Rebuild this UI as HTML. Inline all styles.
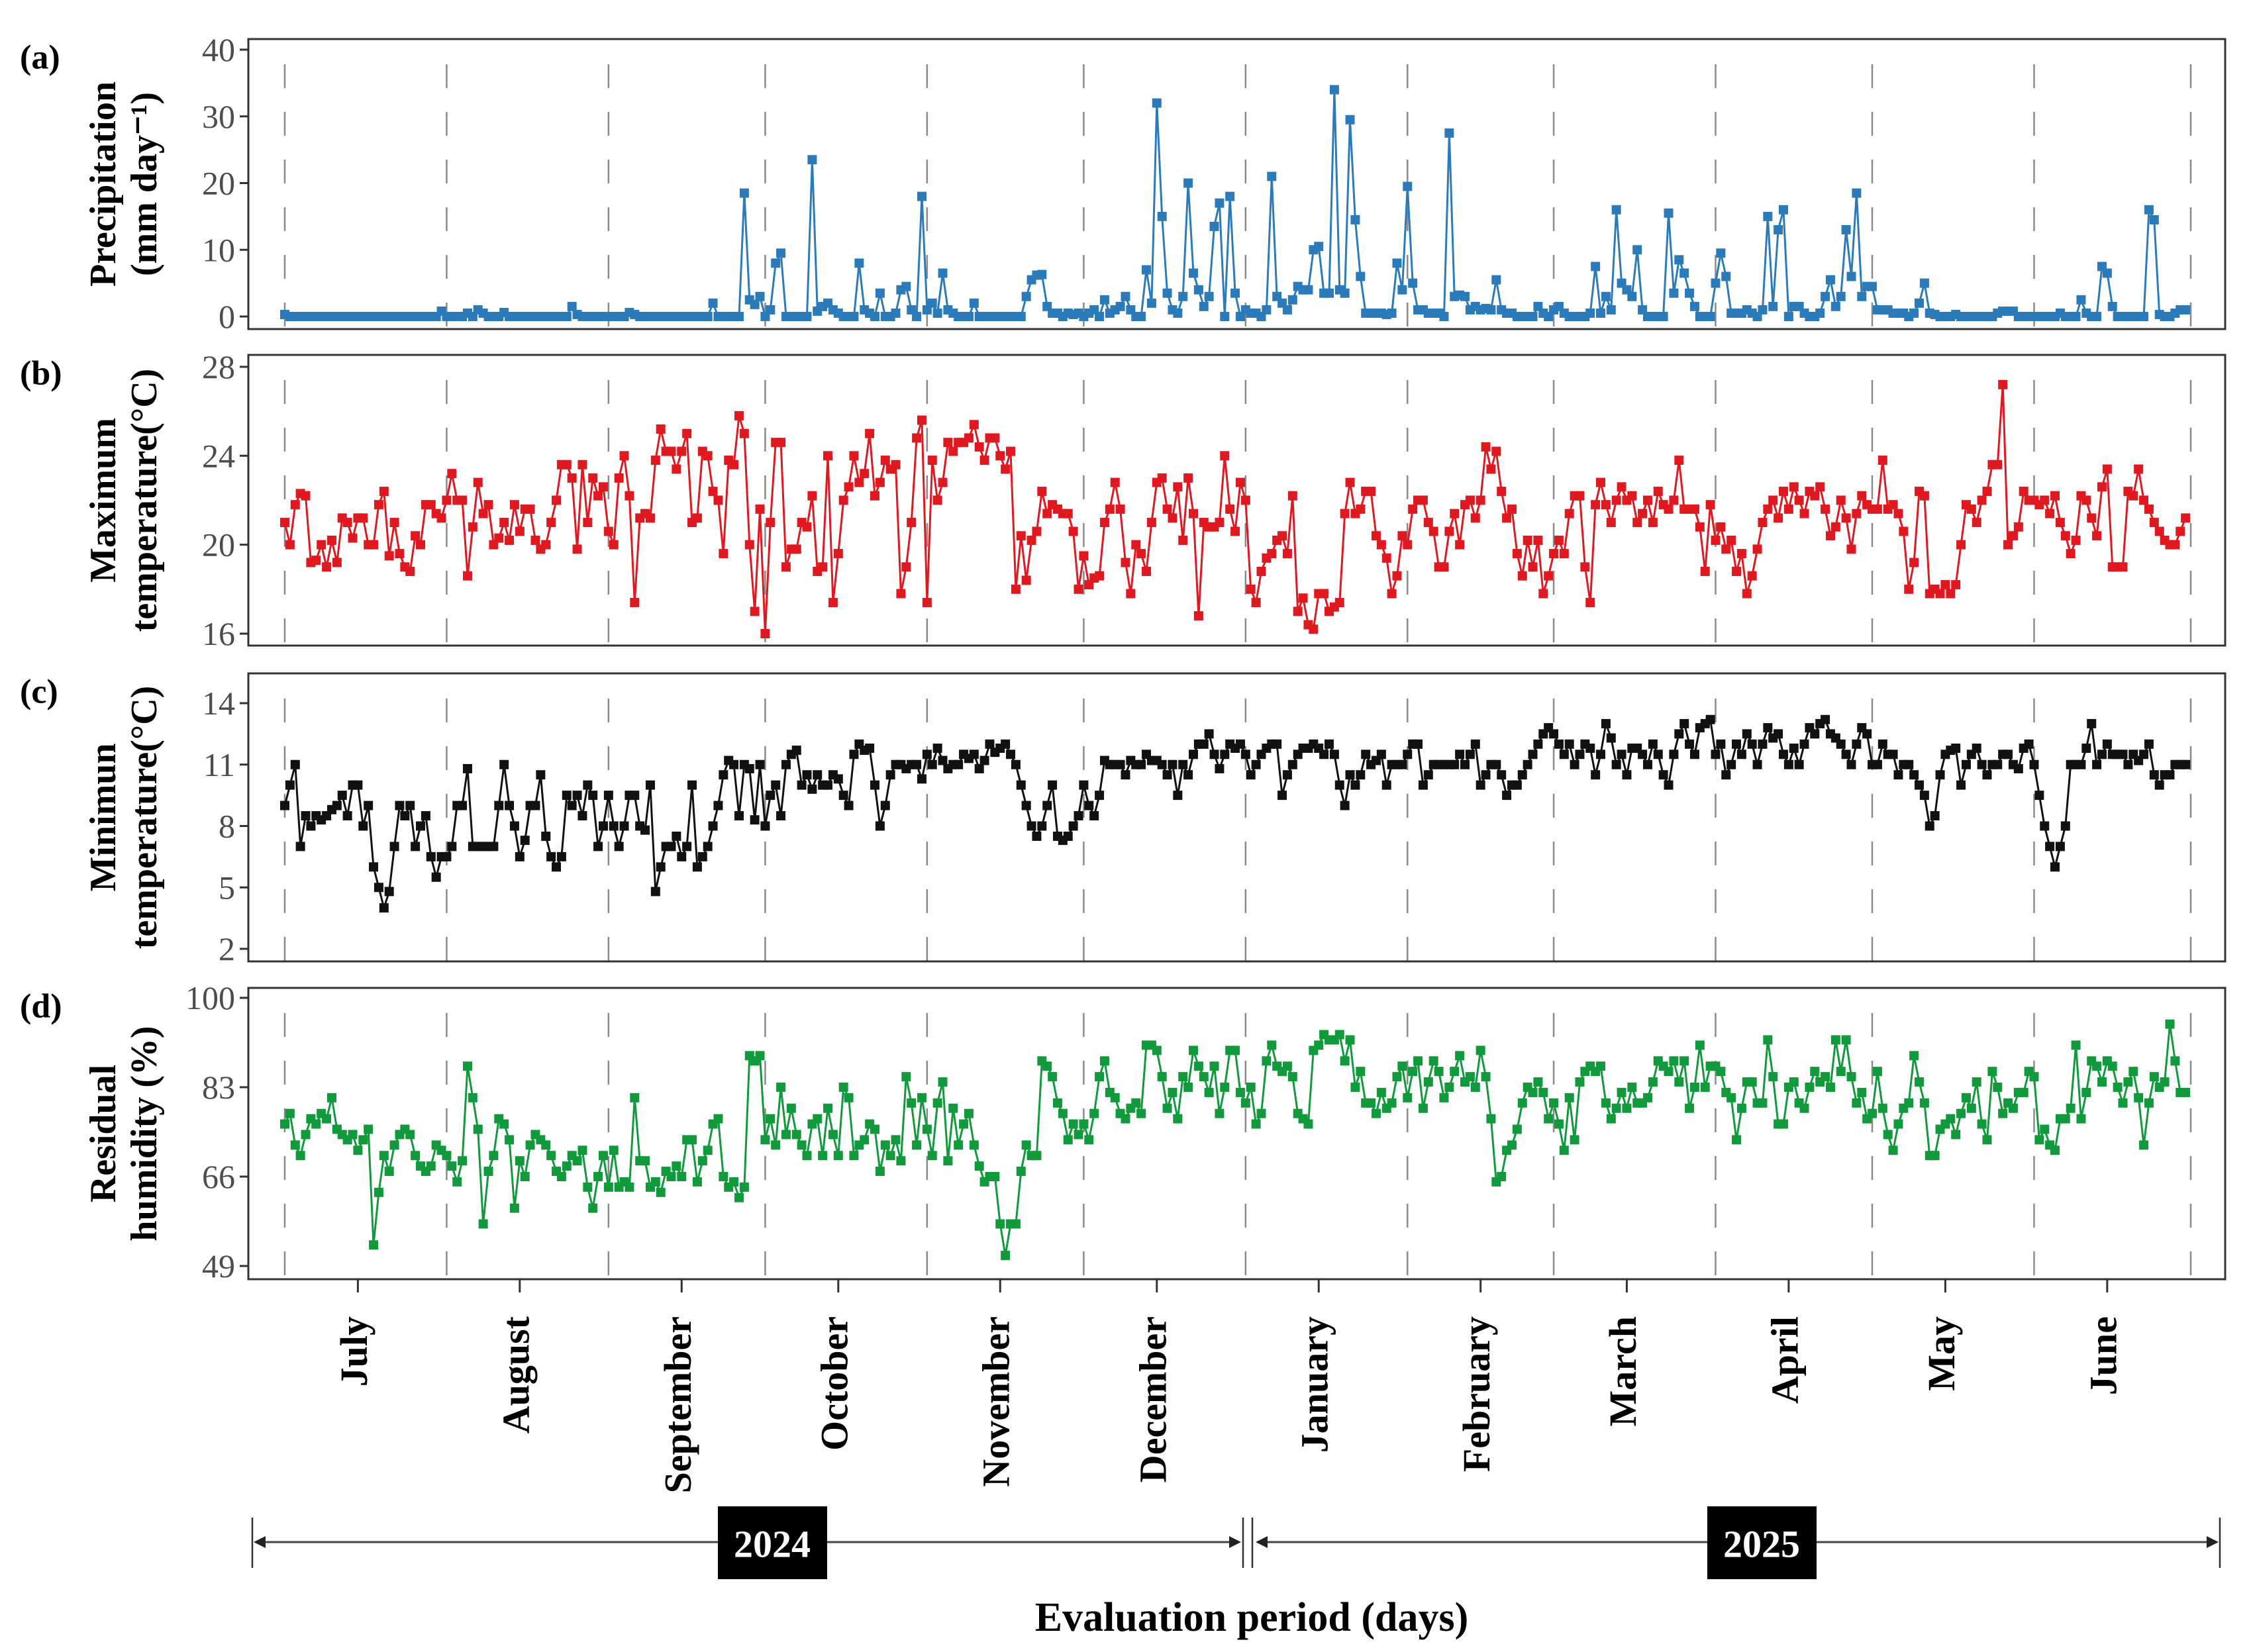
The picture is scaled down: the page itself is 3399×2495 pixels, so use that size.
<!DOCTYPE html>
<html><head><meta charset="utf-8"><style>
html,body{margin:0;padding:0;background:#fff;}
svg{display:block;font-family:"Liberation Serif",serif;}
</style></head><body>
<svg id="chart" width="3399" height="2495" viewBox="0 0 3399 2495" xmlns="http://www.w3.org/2000/svg"></svg>
<script>
const monthNames=["July","August","September","October","November","December","January","February","March","April","May","June"];
const monthStartDays=[0,31,62,92,123,153,184,215,243,274,304,335,365];
const monthMidDays=[14,45,76,106,137,167,198,229,257,288,318,349];
const precipTicks=[0,10,20,30,40];
const tmaxTicks=[16,20,24,28];
const tminTicks=[2,5,8,11,14];
const humTicks=[49,66,83,100];
const precip=[0.3,0,0,0,0,0,0,0,0,0,0,0,0,0,0,0,0,0,0,0,0,0,0,0,0,0,0,0,0,0,
0.8,0,0,0,0,0.5,0,1,0.5,0,0,0,0.6,0,0,0,0,0,0,0,0,0,0,0,0,1.5,0.3,0,0,0,
0,0,0,0,0,0,0.6,0.3,0,0,0,0,0,0,0,0,0,0,0,0,0,0,2,0,0,0,0,0,18.5,2.5,
1.8,3,0,1,8,9.5,0,0,0,0,0,23.5,0.8,1.5,2,1,0.5,0,0,0,8,1,0.5,0,3.5,0,0,0.5,4,4.5,
1,0,18,1,2,0.5,6.5,1,0.5,0,0,0,2,0,0,0,0,0,0,0,0,0,3,5.5,6.2,6.3,1.5,0.5,0.5,0,
0.5,0.3,0.5,0,0.5,1,0,2.5,0.5,1,1.5,3,1,0,0,7,2,32,15,3.5,1,0.5,3,20,6.5,4,1.5,3,13.5,17,
0,18,3.5,0,1,0.5,0.5,0,1,21,3,2,1,2.5,4.5,4,4,10,10.5,3.5,3.5,34,4,3.5,29.5,14.5,6,0.5,0.5,0.5,
0.5,0.3,0.5,8,4,19.5,5,1,1,0.5,0.5,0.5,0,27.5,3,3.2,3,1,1.5,1,1.2,1,5.5,1,0.5,0.5,0,0,0,0,
1.5,0.5,0,1,1.5,0.5,0,0,0,0,0.5,7.5,0.5,3,1,16,5,4,3,10,1,0,0,0,0,15.5,3.5,8.5,6.5,3.5,
1.5,0,0,0,5,9.5,6,0.5,0.5,0.5,1,0.5,0,1,15,1.5,13,16,0,1.5,1.5,0.5,0,0,0.5,3,5.5,1.5,3,13,
6,18.5,3,4.5,4.5,1,1,1,0.5,0.5,0.5,0,0.5,2,5,0.5,0.3,0,0,0,0.3,0,0,0,0,0,0,0,0.5,0.8,
0.8,0.8,0,0,0,0,0,0,0,0,0.5,0,0,0,2.5,0.5,0,0,7.5,6.5,1.5,0,0,0,0,0,0,16,14.5,0.3,
0,0,0.5,1,1];
const tmax=[21,20,21.8,22.3,22.2,19.2,19.3,20,19,20.2,19.2,21.2,21,20.3,21.2,21.2,20,20,21.8,22.4,19.5,21,19.6,19,18.8,20.4,20,21.8,21.8,21.4,21.2,
22,23.2,22,22,18.6,20.8,22.8,21.4,21.8,20,20.3,21,20.2,21.8,20.6,21.6,21.6,20.2,19.8,20,21,22,23.6,23.6,23,19.8,23.6,21,23,22.2,22.6,
20.6,20,23,24,22.2,17.4,21.2,21.4,21.2,23.8,25.2,24.2,24.2,23.4,24.2,25,21,21.2,24.2,24,22.4,22,19.6,23.8,23.6,25.8,25,20,17,21.6,
16,21,24.6,24.6,19,19.8,19.8,21,20.8,22.2,18.8,19,24,17.4,19.6,22,22.6,24,22.8,23.2,25,22.2,22.8,23.8,23.4,23.6,17.8,19,21,24.8,25.6,
17.4,23.8,22,22.8,24.6,24.2,24.6,24.6,24.8,25.4,24.4,23.8,24.8,24.8,24,23.4,24.2,18,20.4,18.4,20.2,20.6,22.4,21.4,21.8,21.6,21.4,21.4,20.6,18,
19.5,18.2,18.5,18.6,21,21.6,22.8,21.6,19.2,17.8,20,19.6,18.8,21,22.8,23,21.6,21.2,22.6,20.2,23,21.4,16.8,21,20.8,20.8,21,24,21.6,20.6,22.8,
22,18,17.4,18.8,19.4,19.6,20.2,20.4,19.6,22.2,17,17.6,16.4,16.2,17.8,17.8,17,17.2,17.4,21.4,22.8,21.4,21.6,22.4,22.4,20.4,20,19.4,17.8,18.6,20.4,
20,21.6,22,22,21,20.6,19,19,20.6,21.4,20,21.8,22,21.2,22,24.4,23.4,24.2,22.4,21.2,21.6,19.6,18.6,20.2,19,20.2,17.8,18.6,
19.6,20.2,19.6,21.4,22.2,22.2,19,17.4,21.8,22.8,21.8,21,22,22.6,22,22.2,21,21.4,22,21,22.4,21.8,21.6,22,23.8,21.6,21.6,21.6,20.8,18.8,21.8,
20.2,20.8,19.8,20.2,18.8,19.6,17.8,18.6,19.8,21,21.6,22,21.2,22.4,21.6,22.6,22,21.4,22.4,22.2,22.6,21.6,20.4,20.8,22,21.2,19.8,21.4,22.2,21.8,
21.6,21.6,23.8,21.6,21.8,21.4,20.6,18,19.2,22.4,22.2,17.8,18,17.8,18.2,17.8,18.2,20,21.8,21.6,21,22,22.4,23.6,23.6,27.2,20,20.4,20.8,22.4,22,
22,21.8,22,21.4,22.2,21,20.4,19.6,20.2,22.2,22,21.2,20.4,22.6,23.4,19,19,19,22.4,22.2,23.4,22,21.6,21,20.6,20.2,20,20,20.6,21.2];
const tmin=[9,10,11,7,8.5,8,8.5,8.3,8.5,8.8,9,9.5,8.5,10,10,8,9,6,5,4,4.8,7,9,8.5,9,7,8,8.5,6.5,5.5,6.5,
6.5,7,9,9,10.8,7,7,7,7,7,9,11,9,8,6.5,7.3,9,9,10.5,7.5,6.5,6,6.5,9.5,9,9.5,8.5,10,9.5,7,8,
9.5,8,7,8,9.5,9.5,8,7.8,10,4.8,6,7,7,7.5,6.5,7,10,6,6.5,7,8,9,10.5,11.2,11,8.5,11,10.8,8.3,11,
8,9.5,10,8.5,11,11.5,11.7,10,10.5,9.8,10.5,10,10,10.5,10.3,9.5,9,11.5,12,11.7,11.8,10,8,9,10.5,11,11,10.8,11,11,10.3,
11.5,11,11.8,11.2,10.8,11,11,11.5,11.3,11.5,10.8,11.2,12,11.6,11.8,12,11.5,11,10,9,8,7.5,8,9,10,7.5,7.3,7.5,8,8.5,
10,9,8.5,9.5,11.2,11,11,11,10.5,11.2,11,11,11.5,11.2,11.2,11,10.5,11,9.5,11,10.5,11.5,12,12,12.5,11.5,10.8,11.5,12,11.8,12,
11.5,10.5,11,11.5,11.8,12,12,9.5,10.5,11,11.5,11.8,11.8,12,11.8,11.5,12,11.5,10,9,10.5,10,10.5,11.5,11,11.2,11.5,10,11,11,11,
11.5,12,12,10,10.5,11,11,11,11,11,11.5,11,11.5,12,10,10.5,11,11,10.5,9.5,10,10,10.5,11,11.5,12,12.5,12.8,
12.5,12,11.5,12,11,11.5,12,11.8,10.5,11.5,13,12.3,11,11.5,10.5,11.8,11.8,11.5,11,12,11.5,10.5,10,11.5,12.5,13,12,11.5,12.8,13,13.2,
11.5,12,10.5,11,12,11.5,12.5,12,11,12,12.8,12.3,12.5,11.5,11,11.8,11,12,12.8,12.5,13,13.2,12.5,12.3,12,11.5,11,12,12.8,12.5,
11,11,12,11.5,11.5,10.5,11,11,10.5,10,9.5,8,8.5,10.5,11.5,11.7,11.8,10,11,11.5,11.8,11,10.5,11,11,11.5,11.5,11,10.8,11.8,12,
11,9.5,8,7,6,7,8,11,11,11,11.8,13,11,11.5,12,11.5,11.5,11.5,11,11.5,11.2,11.5,12,10.5,10,10.5,10.5,11,11,11];
const humidity=[76,78,72,70,74,77,76,78,77,81,75,74,73,74,71,73,75,53,63,70,67,72,74,75,74,70,68,67,68,72,71,
70,68,65,69,87,81,75,57,67,70,77,76,73,60,69,66,72,74,73,72,70,67,66,68,70,69,71,64,60,66,70,
64,71,64,65,64,81,69,69,64,65,63,67,66,68,66,73,73,65,69,71,76,77,66,64,65,62,64,89,88,89,
73,77,72,83,74,79,74,72,70,76,77,70,79,74,70,83,81,70,72,73,76,75,67,72,70,73,69,85,80,72,81,
75,70,80,84,69,79,72,76,78,72,68,65,66,66,57,51,57,57,67,72,70,70,88,87,85,80,78,73,76,74,
76,73,78,85,88,82,81,78,77,79,80,78,91,91,90,85,79,82,77,85,83,90,87,85,82,87,78,83,90,90,82,
80,83,76,78,88,91,87,86,87,85,78,77,76,90,91,93,92,92,93,88,92,83,86,80,80,78,82,79,80,85,87,
81,86,88,79,84,88,86,81,83,86,89,84,85,83,90,85,77,65,66,71,72,75,80,83,82,84,82,77,
80,76,71,81,73,84,86,87,86,87,80,77,79,82,79,83,80,80,81,84,88,87,86,88,84,88,79,83,91,83,87,
87,86,82,81,73,79,84,84,80,80,92,85,76,76,83,84,80,79,83,86,84,85,83,92,86,92,85,80,82,77,
78,86,79,74,71,76,79,80,89,84,80,70,70,75,76,77,74,78,81,79,84,76,73,86,83,78,80,79,82,82,86,
85,73,75,72,71,77,77,79,91,77,82,88,87,84,88,87,83,80,84,86,81,72,80,85,83,84,95,88,82,82];

const NS="http://www.w3.org/2000/svg";
const svg=document.getElementById('chart');
function mk(tag,attrs,parent){const e=document.createElementNS(NS,tag);for(const k in attrs)e.setAttribute(k,attrs[k]);(parent||svg).appendChild(e);return e;}
const X0=430, PXD=7.885, LEFT=375, RIGHT=3360;
function xDay(d){return X0+d*PXD;}
const panels=[
 {key:'a',data:precip,ticks:precipTicks,top:59,bot:497,v0:0,y0:478,v1:40,y1:75,color:'#2b7bba',t1:'Precipitation',t2:'(mm day⁻¹)',name:'precipitation'},
 {key:'b',data:tmax,ticks:tmaxTicks,top:536,bot:975,v0:16,y0:957,v1:28,y1:554,color:'#e0181f',t1:'Maximum',t2:'temperature(°C)',name:'max-temperature'},
 {key:'c',data:tmin,ticks:tminTicks,top:1017,bot:1452,v0:2,y0:1433,v1:14,y1:1062,color:'#111111',t1:'Minimun',t2:'temperature(°C)',name:'min-temperature'},
 {key:'d',data:humidity,ticks:humTicks,top:1492,bot:1932,v0:49,y0:1912,v1:100,y1:1507,color:'#109a3c',t1:'Residual',t2:'humidity (%)',name:'humidity'}
];
panels.forEach(p=>{
 const g=mk('g',{});
 
 
 const yv=v=>p.y0+(v-p.v0)*(p.y1-p.y0)/(p.v1-p.v0);
 monthStartDays.forEach(d=>{
  const l=mk('line',{x1:xDay(d),x2:xDay(d),y1:p.top+38,y2:p.bot,stroke:'#8a8a8a','stroke-width':2.5,'stroke-dasharray':'36 36'},g);
  
  
 });
 p.ticks.forEach(t=>{
  const y=yv(t);
  const tl=mk('line',{x1:LEFT-13,x2:LEFT,y1:y,y2:y,stroke:'#333','stroke-width':3},g);
  
  
  const tx=mk('text',{x:LEFT-20,y:y,'text-anchor':'end','dominant-baseline':'central','font-size':50,fill:'#4d4d4d'},g);
  tx.textContent=t;
  
  
 });
 const pts=p.data.map((v,i)=>[xDay(i),yv(v)]);
 const path=mk('polyline',{points:pts.map(q=>q[0].toFixed(1)+','+q[1].toFixed(1)).join(' '),fill:'none',stroke:p.color,'stroke-width':3,'stroke-linejoin':'round'},g);
 
 
 pts.forEach(q=>{
  const r=mk('rect',{x:q[0]-7,y:q[1]-7,width:14,height:14,fill:p.color},g);
  
  
 });
 const fr=mk('rect',{x:LEFT,y:p.top,width:RIGHT-LEFT,height:p.bot-p.top,fill:'none',stroke:'#333','stroke-width':3},g);
 
 
 const cy=(p.top+p.bot)/2;
 const a1=mk('text',{x:0,y:0,transform:`translate(156,${cy}) rotate(-90)`,'text-anchor':'middle','dominant-baseline':'central','font-size':56,'font-weight':'bold',fill:'#000'},g);
 a1.textContent=p.t1;
 
 
 const a2=mk('text',{x:0,y:0,transform:`translate(218,${cy}) rotate(-90)`,'text-anchor':'middle','dominant-baseline':'central','font-size':56,'font-weight':'bold',fill:'#000'},g);
 a2.textContent=p.t2;
 
 
 const lb=mk('text',{x:30,y:p.top+28,'font-size':52,'font-weight':'bold','dominant-baseline':'central',fill:'#000'},g);
 lb.textContent='('+p.key+')';
 
 
});
monthMidDays.forEach((d,i)=>{
 const x=xDay(d);
 const t=mk('line',{x1:x,x2:x,y1:1932,y2:1952,stroke:'#333','stroke-width':3});
 
 
 const tx=mk('text',{x:0,y:0,transform:`translate(${x-6},1988) rotate(-90)`,'text-anchor':'end','dominant-baseline':'central','font-size':58,'font-weight':'bold',fill:'#000'});
 tx.textContent=monthNames[i];
 
 
});
function arrowSeg(x1,x2,name){
 const g=mk('g',{});
 
 
 mk('line',{x1:x1+8,x2:x2-8,y1:2329,y2:2329,stroke:'#444','stroke-width':3},g);
 mk('polygon',{points:`${x1},2329 ${x1+18},2320 ${x1+18},2338`,fill:'#222'},g);
 mk('polygon',{points:`${x2},2329 ${x2-18},2320 ${x2-18},2338`,fill:'#222'},g);
 return g;
}
arrowSeg(383,1874,'year-2024-span');
arrowSeg(1896,3350,'year-2025-span');
[381,1877,1891,3352].forEach(x=>{
 const l=mk('line',{x1:x,x2:x,y1:2292,y2:2368,stroke:'#333','stroke-width':2.5});
 
 
});
[[1084,'2024'],[2578,'2025']].forEach(([x,t])=>{
 const r=mk('rect',{x:x,y:2275,width:165,height:110,fill:'#000'});
 
 
 const tx=mk('text',{x:x+82,y:2332,'text-anchor':'middle','dominant-baseline':'central','font-size':58,'font-weight':'bold',fill:'#fff'});
 tx.textContent=t;
 
 
});
const xt=mk('text',{x:1890,y:2443,'text-anchor':'middle','dominant-baseline':'central','font-size':62,'font-weight':'bold',fill:'#000'});
xt.textContent='Evaluation period (days)';


</script>
</body></html>
